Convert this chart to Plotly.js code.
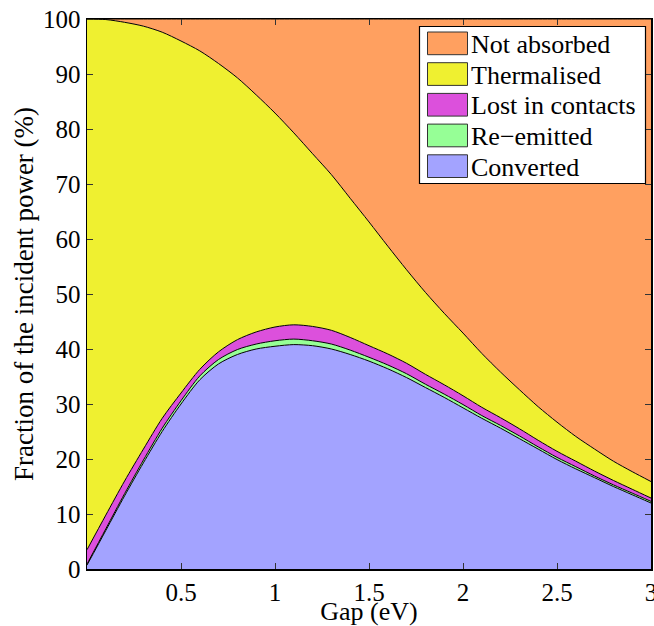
<!DOCTYPE html>
<html>
<head>
<meta charset="utf-8">
<script src="https://cdn.plot.ly/plotly-3.0.1.min.js"></script>
<style>
  html, body { margin: 0; padding: 0; background: #fff; }
  #chart { width: 654px; height: 626px; }
</style>
</head>
<body>
<div id="chart"></div>
<script>
// ---- data ----
const gap = [0, 0.1, 0.2, 0.3, 0.4, 0.5, 0.6, 0.7, 0.8, 0.9, 1.0, 1.1, 1.2, 1.3, 1.4, 1.5,
             1.6, 1.7, 1.8, 1.9, 2.0, 2.1, 2.2, 2.3, 2.4, 2.5, 2.6, 2.7, 2.8, 2.9, 3.0];
const converted = [0.7, 7.0, 13.3, 19.3, 25.0, 30.0, 34.4, 37.3, 39.0, 40.0, 40.5, 40.8, 40.6, 40.0, 39.0, 37.8,
                   36.4, 34.8, 33.0, 31.2, 29.3, 27.4, 25.6, 23.7, 21.8, 19.9, 18.2, 16.6, 15.0, 13.5, 12.0];
const reEmitted = [0.2, 0.3, 0.4, 0.5, 0.6, 0.6, 0.7, 0.8, 0.9, 0.9, 1.0, 1.0, 0.9, 0.9, 0.8, 0.7,
                   0.7, 0.7, 0.6, 0.6, 0.6, 0.5, 0.5, 0.5, 0.4, 0.4, 0.4, 0.3, 0.3, 0.3, 0.3];
const lostInContacts = [2.6, 2.5, 2.3, 2.0, 1.8, 1.4, 1.2, 1.4, 1.8, 2.2, 2.5, 2.6, 2.6, 2.5, 2.3, 2.1,
                        2.0, 1.9, 1.8, 1.7, 1.6, 1.5, 1.4, 1.3, 1.2, 1.1, 1.0, 0.9, 0.8, 0.7, 0.6];
const thermalised = [96.5, 90.1, 83.4, 76.9, 70.2, 64.0, 57.9, 52.4, 47.6, 43.1, 38.9, 34.9, 31.4, 28.3, 25.3, 22.5,
                     19.6, 17.0, 14.9, 13.0, 11.4, 9.8, 8.3, 7.1, 6.1, 5.3, 4.5, 4.0, 3.5, 3.2, 3.0];
const notAbsorbed = [0, 0.1, 0.6, 1.3, 2.4, 4.0, 5.8, 8.1, 10.7, 13.8, 17.1, 20.7, 24.5, 28.3, 32.6, 36.9,
                     41.3, 45.6, 49.7, 53.5, 57.1, 60.8, 64.2, 67.4, 70.5, 73.3, 75.9, 78.2, 80.4, 82.3, 84.1];

const seriesNames = ["Converted", "Re\u2212emitted", "Lost in contacts", "Thermalised", "Not absorbed"];
const seriesValues = [converted, reEmitted, lostInContacts, thermalised, notAbsorbed];
const seriesColors = ["#a3a3ff", "#96ff96", "#dc50dc", "#eff030", "#ffa060"];

const xTicks = [0.5, 1, 1.5, 2, 2.5, 3];
const xTickText = ["0.5", "1", "1.5", "2", "2.5", "3"];
const yTicks = [0, 10, 20, 30, 40, 50, 60, 70, 80, 90, 100];

// ---- layout geometry ----
const W = 654, H = 626;
const M = { l: 87, r: 3, t: 19, b: 57 };
const PW = W - M.l - M.r, PH = H - M.t - M.b;
const px = x => (x - M.l) / PW;          // pixel -> paper x
const py = y => (H - M.b - y) / PH;      // pixel -> paper y

const FONT = 'Liberation Serif';

const traces = seriesNames.map((name, i) => ({
  type: "scatter",
  mode: "lines",
  name: name,
  x: gap,
  y: seriesValues[i],
  stackgroup: "power",
  fillcolor: seriesColors[i],
  line: { color: "#000", width: 1, shape: "spline", smoothing: 0.8 },
  hoverinfo: "skip",
  showlegend: false
}));

// manual legend (box, swatches, labels)
const shapes = [];
const annotations = [];
const legBox = { x0: 419.5, x1: 645.5, y0: 26.5, y1: 183.5 };
shapes.push({
  type: "rect", xref: "paper", yref: "paper",
  x0: px(legBox.x0), x1: px(legBox.x1), y0: py(legBox.y1), y1: py(legBox.y0),
  fillcolor: "#fff", line: { color: "#000", width: 1.2 }, layer: "above"
});
const legendOrder = [4, 3, 2, 1, 0];
legendOrder.forEach((si, row) => {
  const top = 32 + row * 30.7;
  const bot = top + 22.7;
  shapes.push({
    type: "rect", xref: "paper", yref: "paper",
    x0: px(427.5), x1: px(467.5), y0: py(bot), y1: py(top),
    fillcolor: seriesColors[si], line: { color: "#333", width: 1 }, layer: "above"
  });
  annotations.push({
    xref: "paper", yref: "paper",
    x: px(469), y: py((top + bot) / 2 + 1),
    xanchor: "left", yanchor: "middle",
    text: seriesNames[si], showarrow: false,
    font: { family: FONT, size: 26, color: "#000000" }
  });
});

const layout = {
  width: W, height: H,
  margin: M,
  paper_bgcolor: "#fff",
  plot_bgcolor: "#fff",
  showlegend: false,
  hovermode: false,
  xaxis: {
    range: [0, 3],
    tickmode: "array", tickvals: xTicks, ticktext: xTickText,
    ticks: "inside", ticklen: 6, tickwidth: 1, tickcolor: "#333",
    showline: true, linecolor: "#000", linewidth: 1.5, mirror: "ticks",
    showgrid: false, zeroline: false,
    ticklabeloverflow: "allow",
    tickfont: { family: FONT, size: 25, color: "#000000" },
    title: { text: "Gap (eV)", font: { family: FONT, size: 26, color: "#000000" }, standoff: 0 },
    automargin: false
  },
  yaxis: {
    range: [0, 100],
    tickmode: "array", tickvals: yTicks,
    ticks: "inside", ticklen: 6, tickwidth: 1, tickcolor: "#333",
    showline: true, linecolor: "#000", linewidth: 1.5, mirror: "ticks",
    showgrid: false, zeroline: false,
    tickfont: { family: FONT, size: 25, color: "#000000" },
    title: { text: "Fraction of the incident power (%)", font: { family: FONT, size: 27, color: "#000000" }, standoff: 1 },
    automargin: false
  },
  shapes: shapes,
  annotations: annotations
};

Plotly.newPlot("chart", traces, layout, { displayModeBar: false, staticPlot: true });
</script>
</body>
</html>
